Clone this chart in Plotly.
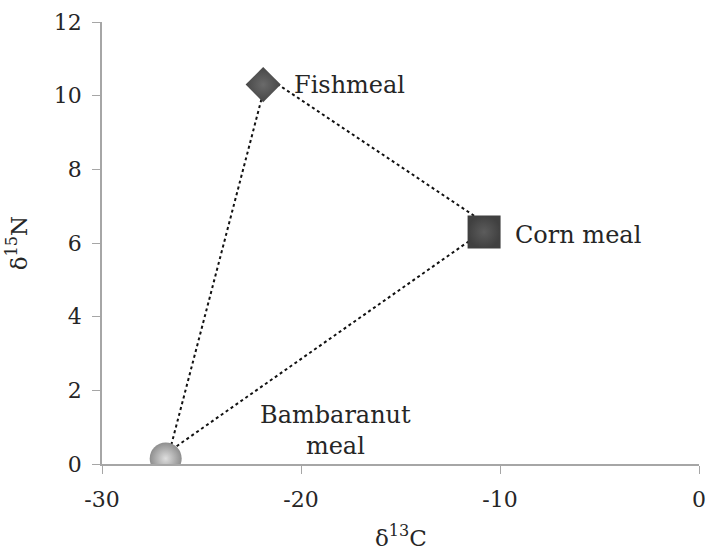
import plotly.graph_objects as go

# Feed ingredients: δ13C (x) and δ15N (y)
names = ["Fishmeal", "Corn meal", "Bambaranut meal"]
d13c = [-21.9, -10.8, -26.8]
d15n = [10.3, 6.3, 0.15]

# Mixing-polygon vertices as drawn (closed triangle)
tri_x = [-21.7, -10.5, -26.6, -21.7]
tri_y = [10.5, 6.45, 0.35, 10.5]

# Label positions
lab_text = ["Fishmeal", "Corn meal", "Bambaranut<br>meal"]
lab_x = [-20.45, -9.35, -18.25]
lab_y = [10.3, 6.22, 0.9]
lab_anchor = ["left", "left", "center"]

x_ticks = [-30, -20, -10, 0]
x_ticktext = ["-30", "-20", "-10", "0"]
y_ticks = [0, 2, 4, 6, 8, 10, 12]

font_family = "DejaVu Serif"
txt_col = "#262626"
axis_col = "#a6a6a6"

fig = go.Figure()

fig.add_trace(go.Scatter(
    x=tri_x, y=tri_y, mode="lines",
    line=dict(color="#111111", width=2, dash="dot"),
    hoverinfo="skip", showlegend=False))

symbols = ["diamond", "square", "circle"]
sizes = [27, 33, 32]
edge_cols = ["#474747", "#404040", "#8e8e8e"]
center_cols = ["#6a6a6a", "#5c5c5c", "#dedede"]
for i in range(3):
    fig.add_trace(go.Scatter(
        x=[d13c[i]], y=[d15n[i]], mode="markers", name=names[i],
        marker=dict(symbol=symbols[i], size=sizes[i], color=edge_cols[i],
                    gradient=dict(type="radial", color=center_cols[i]),
                    line=dict(width=0)),
        showlegend=False))

for t, x, y, a in zip(lab_text, lab_x, lab_y, lab_anchor):
    fig.add_annotation(x=x, y=y, text=t, showarrow=False, xanchor=a,
                       yanchor="middle", align="center",
                       font=dict(family=font_family, size=24, color=txt_col))

# x-axis title, sitting low near the page edge as in the reference
fig.add_annotation(xref="paper", yref="paper", x=0.5, y=-0.163,
                   text="δ<sup>13</sup>C", showarrow=False,
                   xanchor="center", yanchor="middle",
                   font=dict(family=font_family, size=23, color=txt_col))

fig.update_layout(
    width=706, height=551,
    margin=dict(l=102, r=7, t=22, b=87),
    paper_bgcolor="white", plot_bgcolor="white",
    font=dict(family=font_family, size=20, color=txt_col),
    showlegend=False,
)
fig.update_xaxes(
    range=[-30, 0], tickvals=x_ticks, ticktext=x_ticktext,
    ticks="outside", ticklen=8, ticklabelstandoff=7, automargin=False,
    tickcolor=axis_col, showline=True, linecolor=axis_col, linewidth=1.5,
    showgrid=False, zeroline=False, tickfont=dict(size=22))
fig.update_yaxes(
    range=[0, 12], tickvals=y_ticks, ticks="outside", ticklen=8,
    ticklabelstandoff=6, automargin=False,
    tickcolor=axis_col, showline=True, linecolor=axis_col, linewidth=1.5,
    showgrid=False, zeroline=False, tickfont=dict(size=22),
    title=dict(text="δ<sup>15</sup>N", standoff=20, font=dict(size=23)))

fig.write_html("out.html")
